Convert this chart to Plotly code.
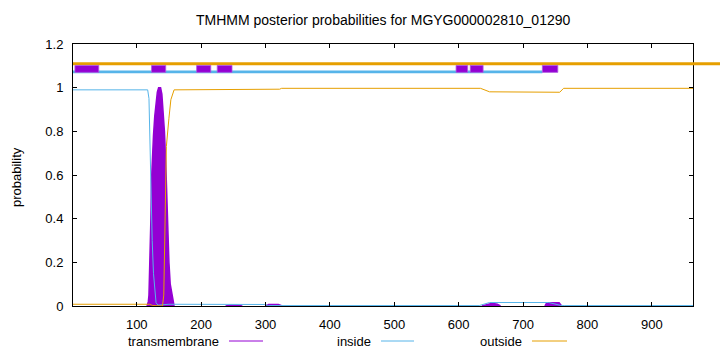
import plotly.graph_objects as go

# ---------------- data ----------------
SEQ_LEN = 964
Y_MAX = 1.2
TITLE = "TMHMM posterior probabilities for MGYG000002810_01290"

# posterior probability of "inside" (residue, probability)
inside_x = [1, 117, 119, 120, 121, 122, 124, 126, 128, 130, 133, 140, 150, 298, 305, 632, 648, 740, 758, 765, 964]
inside_y = [0.99, 0.99, 0.95, 0.8, 0.6, 0.48, 0.3, 0.15, 0.06, 0.015, 0.004, 0.006, 0.008, 0.007, 0.002, 0.002, 0.016, 0.016, 0.003, 0.002, 0.002]

# posterior probability of "outside"
outside_x = [1, 120, 125, 140, 142, 145, 146, 150, 153, 158, 322, 325, 634, 648, 740, 748, 757, 763, 964]
outside_y = [0.008, 0.008, 0.002, 0.0, 0.05, 0.45, 0.73, 0.86, 0.945, 0.99, 0.993, 0.997, 0.997, 0.981, 0.981, 0.979, 0.979, 0.997, 0.997]

# posterior probability of "transmembrane" (main helix + small bumps)
tm_peak_x = [116, 118, 119, 120, 121, 122, 123, 124, 126, 128, 130, 132, 134, 137, 139, 141, 143, 145, 146, 147, 148, 149, 150, 152, 154, 156, 158]
tm_peak_y = [0, 0.02, 0.05, 0.15, 0.25, 0.4, 0.58, 0.66, 0.78, 0.87, 0.94, 0.98, 1.0, 1.0, 0.97, 0.9, 0.8, 0.66, 0.56, 0.45, 0.33, 0.27, 0.2, 0.1, 0.06, 0.03, 0]
tm_bump1_x = [238, 245, 255, 264]
tm_bump1_y = [0, 0.004, 0.004, 0]
tm_bump2_x = [300, 305, 320, 326]
tm_bump2_y = [0, 0.007, 0.007, 0]
tm_bump3_x = [636, 645, 652, 660, 665]
tm_bump3_y = [0, 0.008, 0.012, 0.008, 0]
tm_bump4_x = [734, 737, 756, 760]
tm_bump4_y = [0, 0.015, 0.015, 0]

# predicted topology bars above the curves
topo_inside_start = [1]
topo_inside_end = [730]
topo_outside_start = [1]
topo_outside_end = [SEQ_LEN]
topo_tm_start = [4, 123, 193, 225, 596, 618, 730]
topo_tm_end = [41, 145, 215, 248, 614, 638, 754]
LEVEL_OUT, LEVEL_TM, LEVEL_IN = 1.11, 1.086, 1.072

x_ticks = [100, 200, 300, 400, 500, 600, 700, 800, 900]
y_ticks = [0, 0.2, 0.4, 0.6, 0.8, 1.0, 1.2]
legend_names = ["transmembrane", "inside", "outside"]

# ---------------- style ----------------
TM_C, IN_C, OUT_C = "#9400D3", "#56B4E9", "#E69F00"
FONT = "Liberation Sans"
W, H = 720, 352
L, R, T, B = 73, 27, 44, 46
PW, PH = W - L - R, H - T - B


def px(p):
    return (p - L) / PW


def py(q):
    return (H - B - q) / PH


fig = go.Figure()

for xs, ys in [(tm_peak_x, tm_peak_y), (tm_bump1_x, tm_bump1_y), (tm_bump2_x, tm_bump2_y),
               (tm_bump3_x, tm_bump3_y), (tm_bump4_x, tm_bump4_y)]:
    fig.add_trace(go.Scatter(x=xs, y=ys, mode="lines", fill="tozeroy", fillcolor=TM_C,
                             line=dict(color=TM_C, width=1.5), showlegend=False, hoverinfo="skip"))

fig.add_trace(go.Scatter(x=inside_x, y=inside_y, mode="lines", line=dict(color=IN_C, width=1),
                         showlegend=False, hoverinfo="skip"))
fig.add_trace(go.Scatter(x=outside_x, y=outside_y, mode="lines", line=dict(color=OUT_C, width=1),
                         showlegend=False, hoverinfo="skip"))

# topology lines
for s, e in zip(topo_inside_start, topo_inside_end):
    fig.add_trace(go.Scatter(x=[s, e], y=[LEVEL_IN, LEVEL_IN], mode="lines",
                             line=dict(color=IN_C, width=2.7), showlegend=False, hoverinfo="skip"))
for s, e in zip(topo_outside_start, topo_outside_end):
    fig.add_trace(go.Scatter(x=[s, e], y=[LEVEL_OUT, LEVEL_OUT], mode="lines",
                             line=dict(color=OUT_C, width=3), showlegend=False, hoverinfo="skip"))
# outside bar runs past the right border in the original
fig.add_shape(type="line", xref="x domain", yref="y domain", x0=1.0, x1=1.1,
              y0=LEVEL_OUT / Y_MAX, y1=LEVEL_OUT / Y_MAX, line=dict(color=OUT_C, width=3))

for s, e in zip(topo_tm_start, topo_tm_end):
    fig.add_shape(type="rect", xref="x", yref="y", x0=s, x1=e,
                  y0=LEVEL_TM - 0.016, y1=LEVEL_TM + 0.016,
                  fillcolor=TM_C, line=dict(color="#B05AE0", width=0.8), layer="above")

# legend (gnuplot style: text then sample line)
leg_text_right = [221, 373, 524]
leg_line = [(229, 263), (381, 414), (532, 567)]
for name, tr, (a, b), c in zip(legend_names, leg_text_right, leg_line, [TM_C, IN_C, OUT_C]):
    fig.add_annotation(text=name, xref="paper", yref="paper", x=px(tr), y=py(341),
                       xanchor="right", yanchor="middle", showarrow=False,
                       font=dict(family=FONT, size=13, color="black"))
    fig.add_shape(type="line", xref="paper", yref="paper", x0=px(a), x1=px(b),
                  y0=py(341), y1=py(341), line=dict(color=c, width=1))

fig.add_annotation(text=TITLE, xref="paper", yref="paper", x=0.5, y=py(20),
                   xanchor="center", yanchor="middle", showarrow=False,
                   font=dict(family=FONT, size=14, color="black"))
fig.add_annotation(text="probability", xref="paper", yref="paper", x=px(16), y=py(177),
                   xanchor="center", yanchor="middle", showarrow=False, textangle=-90,
                   font=dict(family=FONT, size=13, color="black"))

axis_common = dict(showline=True, linecolor="black", linewidth=1, mirror="ticks",
                   ticks="inside", ticklen=4, tickcolor="black", showgrid=False, zeroline=False,
                   tickfont=dict(family=FONT, size=13, color="black"))
fig.update_xaxes(range=[1, SEQ_LEN], tickvals=x_ticks, ticklabelstandoff=6, **axis_common)
fig.update_yaxes(range=[0, Y_MAX], tickvals=y_ticks, ticklabelstandoff=6, **axis_common)

fig.update_layout(width=W, height=H, margin=dict(l=L, r=R, t=T, b=B),
                  plot_bgcolor="white", paper_bgcolor="white", showlegend=False)

fig.write_html("out.html")
